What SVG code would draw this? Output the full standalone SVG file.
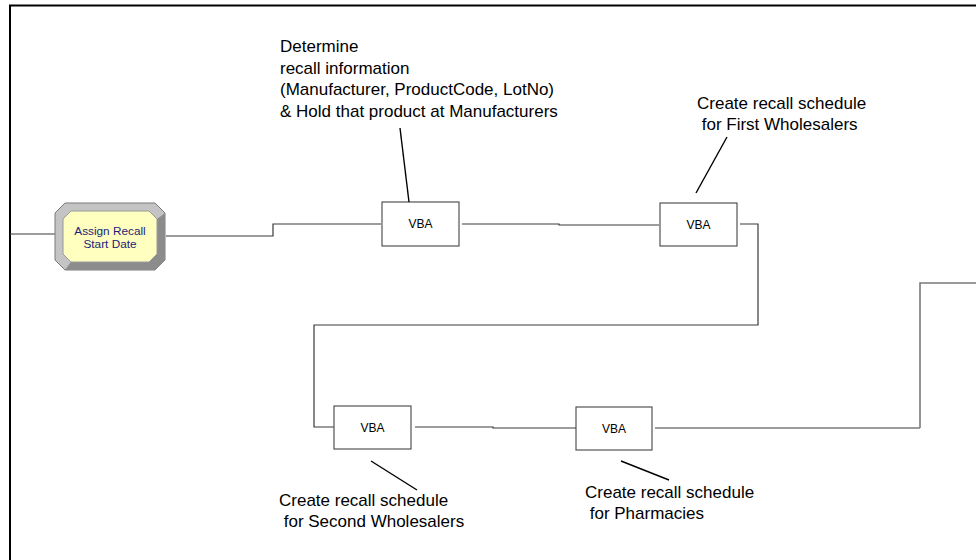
<svg xmlns="http://www.w3.org/2000/svg" width="976" height="560" viewBox="0 0 976 560">
  <style>
    .frame { fill: none; stroke: #000; stroke-width: 2; }
    .conn { fill: none; stroke: #3a3a3a; stroke-width: 1.2; }
    .conn-light { fill: none; stroke: #7a7a7a; stroke-width: 1.6; }
    .leader { fill: none; stroke: #000; stroke-width: 1.4; }
    .box { fill: #fff; stroke: #444; stroke-width: 1.1; }
    .vba { font-family: "Liberation Sans", Arial, sans-serif; font-size: 12px; fill: #000; text-anchor: middle; }
    .note { font-family: "Liberation Sans", Arial, sans-serif; font-size: 17px; fill: #000; }
    .assign { font-family: "Liberation Sans", Arial, sans-serif; font-size: 11.8px; fill: #1c1c78; text-anchor: middle; }
  </style>

  <rect width="976" height="560" fill="#fff"/>
  <!-- outer frame (right and bottom edges run off the page) -->
  <path class="frame" d="M10,562 V5.5 H980"/>

  <g id="connectors">
    <path class="conn" d="M10,234 H55"/>
    <path class="conn" d="M166,236 H273 V224 H381"/>
    <path class="conn" d="M462,224 H559 V225 H659"/>
    <path class="conn" d="M740,224 H758 V325 H314 V427 H334"/>
    <path class="conn" d="M415,427 H493 V428 H576"/>
    <path class="conn" d="M655,428 H920"/>
    <path class="conn-light" d="M920,428 V283 H976"/>
  </g>

  <g id="assign-recall-start-date">
    <polygon points="65,203 155,203 165,213 165,260 155,270 65,270 55,260 55,213" fill="#c4c4c4" stroke="#7a7a7a" stroke-width="1"/>
    <!-- darker bevel on bottom and right -->
    <polygon points="165,213 165,260 155,270 65,270 71,262 149,262 157,254 157,219" fill="#8c8c8c"/>
    <polygon points="71,211 149,211 157,219 157,254 149,262 71,262 63,254 63,219" fill="#ffffc0" stroke="#9a9a9a" stroke-width="1"/>
    <text class="assign" x="110" y="234.5">Assign Recall</text>
    <text class="assign" x="110" y="247.5">Start Date</text>
  </g>

  <g id="vba-1">
    <rect class="box" x="382" y="202" width="77" height="44"/>
    <text class="vba" x="420.5" y="228">VBA</text>
  </g>
  <g id="vba-2">
    <rect class="box" x="660" y="203" width="77" height="43"/>
    <text class="vba" x="698.5" y="229">VBA</text>
  </g>
  <g id="vba-3">
    <rect class="box" x="334" y="406" width="77" height="43"/>
    <text class="vba" x="372.5" y="432">VBA</text>
  </g>
  <g id="vba-4">
    <rect class="box" x="576" y="407" width="76" height="43"/>
    <text class="vba" x="614" y="433">VBA</text>
  </g>

  <g id="note-1">
    <text class="note" x="280" y="52">Determine</text>
    <text class="note" x="280" y="73.5">recall information</text>
    <text class="note" x="280" y="95">(Manufacturer, ProductCode, LotNo)</text>
    <text class="note" x="280" y="117">&amp; Hold that product at Manufacturers</text>
    <path class="leader" d="M400,128 L409,202"/>
  </g>
  <g id="note-2">
    <text class="note" x="697" y="108.5">Create recall schedule</text>
    <text class="note" x="697" y="130" xml:space="preserve"> for First Wholesalers</text>
    <path class="leader" d="M727,137 L696,193"/>
  </g>
  <g id="note-3">
    <text class="note" x="279" y="505.5">Create recall schedule</text>
    <text class="note" x="279" y="527" xml:space="preserve"> for Second Wholesalers</text>
    <path class="leader" d="M371,461 L417,490"/>
  </g>
  <g id="note-4">
    <text class="note" x="585" y="497.5">Create recall schedule</text>
    <text class="note" x="585" y="519" xml:space="preserve"> for Pharmacies</text>
    <path class="leader" d="M621,461 L669,480"/>
  </g>
</svg>
